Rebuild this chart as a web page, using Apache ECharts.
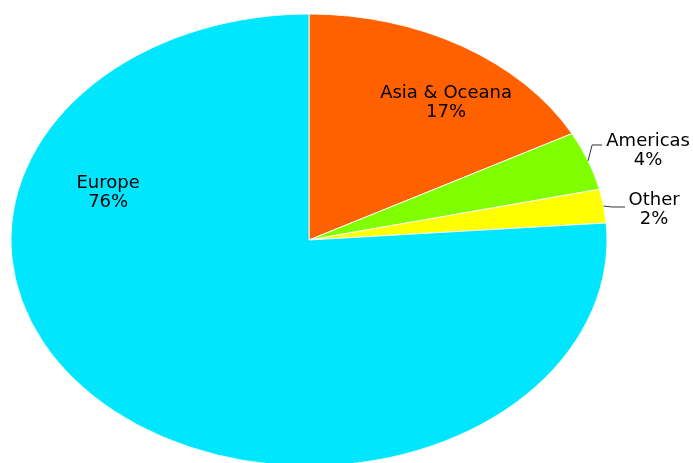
<!DOCTYPE html>
<html>
<head>
<meta charset="utf-8">
<script src="https://cdn.jsdelivr.net/npm/echarts@6/dist/echarts.min.js"></script>
<style>html,body{margin:0;padding:0;background:#fff}#c{width:693px;height:463px}</style>
</head>
<body>
<div id="c"></div>
<script>
// Data (clockwise from 12 o'clock)
var categories = ['Asia & Oceana', 'Americas', 'Other', 'Europe'];
var shares = [17.2, 4.2, 2.4, 76.2];
var colors = ['#FF6000', '#80FF00', '#FFFF00', '#00E6FF'];

// Layout / style settings (not data)
var CX = 309, CY = 240, RX = 298, RY = 226;
var labelLayout = {
  'Asia & Oceana': { fx: 0.46, fy: -0.608 },
  'Americas': { fx: 1.138, fy: -0.394, leader: [[-56, -6], [-46, -6]] },
  'Other': { fx: 1.158, fy: -0.135, leader: [[-42, -2.5], [-29, -2.5]] },
  'Europe': { fx: -0.674, fy: -0.21 }
};

var total = shares.reduce(function (a, b) { return a + b; }, 0);
var cum = [0];
for (var i = 0; i < shares.length; i++) cum.push(cum[i] + shares[i]);

var chart = echarts.init(document.getElementById('c'), null, { renderer: 'canvas' });

function renderItem(params, api) {
  var i = params.dataIndex;
  var v = api.value(0);
  var a0 = cum[i] / total * Math.PI * 2;
  var a1 = (cum[i] + v) / total * Math.PI * 2;
  var name = categories[i];
  var pct = Math.round(v / total * 100);
  var lay = labelLayout[name];
  var tx = CX + lay.fx * RX, ty = CY + lay.fy * RY;
  var children = [{
    type: 'group',
    x: CX, y: CY, scaleX: 1, scaleY: RY / RX,
    children: [{
      type: 'sector',
      shape: { cx: 0, cy: 0, r0: 0, r: RX, startAngle: a0 - Math.PI / 2, endAngle: a1 - Math.PI / 2, clockwise: true },
      style: { fill: colors[i], stroke: '#ffffff', lineWidth: 1, strokeNoScale: true }
    }]
  }];
  if (lay.leader) {
    var am = (a0 + a1) / 2;
    var sx = CX + RX * Math.sin(am), sy = CY - RY * Math.cos(am);
    var pts = [[sx, sy]];
    lay.leader.forEach(function (p) { pts.push([tx + p[0], ty + p[1]]); });
    children.push({
      type: 'polyline', z2: 10,
      shape: { points: pts },
      style: { stroke: '#333333', lineWidth: 1, fill: null }
    });
  }
  children.push({
    type: 'text', z2: 20,
    x: tx, y: ty,
    style: {
      text: name + '\n' + pct + '%',
      fill: '#000000',
      font: '18px "DejaVu Sans"',
      align: 'center', verticalAlign: 'middle',
      textAlign: 'center', textVerticalAlign: 'middle',
      lineHeight: 19
    }
  });
  return { type: 'group', children: children };
}

chart.setOption({
  backgroundColor: '#ffffff',
  animation: false,
  series: [{
    type: 'custom',
    coordinateSystem: 'none',
    renderItem: renderItem,
    data: shares.map(function (s) { return [s]; })
  }]
});
</script>
</body>
</html>
